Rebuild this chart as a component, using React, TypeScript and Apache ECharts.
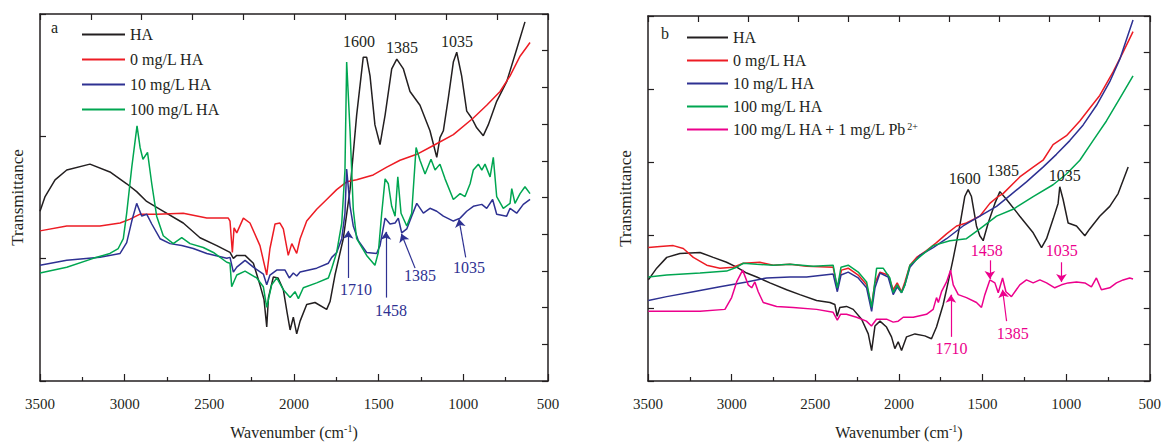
import React, { useEffect, useRef } from "react";
import * as echarts from "echarts";

const FONT = '"Liberation Serif", "Times New Roman", serif';
const INK = "#231f20";
const C_HA = "#231f20";
const C_0 = "#ed1c24";
const C_10 = "#2e3192";
const C_100 = "#00a651";
const C_PB = "#ec008c";

const namesA = ["HA", "0 mg/L HA", "10 mg/L HA", "100 mg/L HA"];
const namesB = ["HA", "0 mg/L HA", "10 mg/L HA", "100 mg/L HA", "100 mg/L HA + 1 mg/L Pb2+"];

// Panel a: [wavenumber (cm-1), transmittance (a.u.)]
const aHA: number[][] = [
  [3500, 173], [3470, 188], [3411, 205], [3342, 215], [3205, 221], [3087, 213], [2988, 201], [2929, 193],
  [2870, 183], [2791, 175], [2654, 161], [2555, 146], [2456, 138], [2378, 131], [2358, 125], [2338, 128],
  [2289, 128], [2240, 120], [2201, 98], [2177, 83], [2161, 55], [2151, 85], [2122, 106], [2094, 105],
  [2063, 93], [2041, 70], [2023, 52], [2004, 65], [1984, 48], [1964, 61], [1925, 78], [1876, 80],
  [1807, 73], [1787, 81], [1758, 108], [1709, 145], [1669, 195], [1630, 271], [1591, 330], [1571, 330],
  [1551, 311], [1522, 261], [1492, 241], [1462, 271], [1423, 318], [1393, 328], [1354, 318], [1315, 295],
  [1256, 281], [1197, 255], [1157, 228], [1138, 248], [1118, 255], [1089, 288], [1059, 325], [1039, 335],
  [1010, 311], [980, 275], [951, 268], [921, 258], [882, 250], [853, 261], [803, 285], [744, 305],
  [685, 338], [636, 366],
];
const a0: number[][] = [
  [3500, 153], [3342, 158], [3146, 158], [3027, 161], [2968, 165], [2909, 170], [2811, 170], [2654, 171],
  [2515, 166], [2388, 166], [2378, 163], [2364, 131], [2354, 156], [2338, 151], [2299, 166], [2260, 161],
  [2201, 138], [2161, 108], [2142, 135], [2112, 160], [2083, 161], [2063, 155], [2034, 128], [2013, 140],
  [1984, 130], [1964, 145], [1925, 163], [1866, 175], [1807, 185], [1748, 195], [1689, 203], [1630, 205],
  [1532, 210], [1452, 218], [1374, 225], [1275, 231], [1177, 240], [1059, 251], [941, 268], [862, 281],
  [783, 295], [724, 311], [665, 331], [606, 345],
];
const a10: number[][] = [
  [3500, 118], [3342, 123], [3146, 126], [3027, 130], [2988, 141], [2958, 163], [2929, 181], [2899, 168],
  [2870, 170], [2840, 160], [2791, 145], [2732, 140], [2663, 138], [2595, 135], [2515, 130], [2397, 125],
  [2378, 126], [2358, 111], [2338, 116], [2289, 123], [2240, 116], [2181, 109], [2161, 98], [2142, 108],
  [2102, 113], [2053, 113], [2028, 105], [2004, 110], [1984, 107], [1964, 111], [1866, 115], [1797, 120],
  [1777, 126], [1748, 131], [1718, 145], [1699, 171], [1689, 216], [1669, 178], [1650, 158], [1620, 143],
  [1571, 131], [1512, 130], [1492, 138], [1462, 166], [1433, 160], [1403, 161], [1384, 166], [1364, 151],
  [1334, 155], [1305, 168], [1275, 181], [1236, 171], [1197, 176], [1157, 173], [1118, 168], [1059, 163],
  [1019, 166], [980, 173], [941, 178], [891, 180], [862, 176], [827, 185], [803, 170], [744, 168],
  [724, 176], [685, 171], [646, 180], [606, 185],
];
const a100: number[][] = [
  [3500, 110], [3342, 116], [3185, 125], [3087, 130], [3038, 135], [3008, 145], [2988, 171], [2958, 218],
  [2927, 260], [2909, 238], [2892, 226], [2865, 233], [2840, 201], [2811, 168], [2772, 148], [2713, 140],
  [2663, 146], [2614, 140], [2536, 136], [2476, 131], [2397, 121], [2378, 120], [2368, 96], [2338, 108],
  [2289, 112], [2220, 105], [2181, 96], [2161, 75], [2132, 98], [2102, 105], [2063, 93], [2023, 85],
  [1994, 91], [1974, 84], [1945, 95], [1866, 100], [1797, 105], [1777, 115], [1748, 131], [1718, 161],
  [1699, 215], [1689, 325], [1669, 255], [1650, 175], [1630, 145], [1571, 128], [1522, 118], [1502, 131],
  [1482, 171], [1462, 206], [1443, 201], [1423, 178], [1403, 168], [1387, 208], [1368, 171], [1334, 158],
  [1305, 171], [1279, 238], [1256, 225], [1226, 211], [1191, 226], [1167, 215], [1138, 221], [1108, 206],
  [1059, 185], [1019, 191], [990, 188], [960, 201], [941, 215], [911, 221], [891, 215], [872, 221],
  [842, 208], [823, 228], [803, 188], [764, 176], [724, 181], [714, 196], [695, 181], [665, 191],
  [636, 198], [606, 191],
];

// Panel b
const bHA: number[][] = [
  [3498, 103], [3448, 115], [3388, 126], [3309, 130], [3189, 131], [3110, 126], [3030, 121], [2970, 116],
  [2910, 110], [2850, 106], [2771, 100], [2671, 93], [2592, 88], [2492, 82], [2412, 80], [2383, 78],
  [2369, 66], [2353, 75], [2313, 76], [2273, 73], [2223, 63], [2183, 48], [2163, 31], [2143, 56],
  [2113, 61], [2074, 55], [2044, 45], [2024, 33], [2004, 40], [1984, 31], [1954, 45], [1904, 48],
  [1845, 46], [1805, 43], [1775, 55], [1735, 78], [1705, 101], [1675, 125], [1636, 158], [1606, 188],
  [1586, 195], [1566, 188], [1536, 158], [1516, 148], [1496, 143], [1466, 161], [1426, 181], [1396, 193],
  [1356, 185], [1277, 168], [1197, 151], [1147, 136], [1117, 145], [1078, 165], [1048, 181], [1038, 198],
  [1018, 185], [988, 161], [938, 158], [888, 148], [859, 155], [799, 168], [739, 178], [689, 191],
  [629, 218],
];
const b0: number[][] = [
  [3498, 136], [3428, 137], [3349, 138], [3289, 135], [3229, 126], [3149, 118], [3070, 115], [2990, 116],
  [2930, 120], [2831, 121], [2751, 118], [2651, 119], [2552, 117], [2393, 116], [2368, 95], [2343, 113],
  [2303, 115], [2243, 108], [2193, 98], [2164, 76], [2143, 100], [2113, 111], [2064, 108], [2034, 93],
  [2010, 100], [1984, 91], [1964, 101], [1934, 118], [1894, 126], [1835, 133], [1775, 141], [1715, 150],
  [1655, 158], [1596, 161], [1516, 168], [1456, 181], [1407, 188], [1377, 191], [1277, 208], [1197, 218],
  [1138, 225], [1078, 241], [998, 250], [918, 265], [859, 278], [799, 291], [719, 315], [660, 335],
  [600, 356],
];
const b10: number[][] = [
  [3498, 82], [3388, 86], [3229, 91], [3070, 96], [2910, 101], [2791, 105], [2651, 106], [2552, 106],
  [2393, 109], [2368, 91], [2346, 108], [2303, 111], [2243, 105], [2193, 95], [2163, 71], [2143, 95],
  [2113, 110], [2064, 106], [2034, 88], [2010, 96], [1984, 90], [1964, 98], [1934, 116], [1875, 128],
  [1795, 136], [1715, 145], [1616, 158], [1516, 168], [1416, 178], [1337, 189], [1237, 203], [1138, 218],
  [1058, 231], [978, 245], [898, 261], [818, 281], [739, 305], [679, 328], [600, 368],
];
const b100: number[][] = [
  [3498, 106], [3388, 108], [3189, 110], [3030, 112], [2970, 116], [2930, 120], [2850, 119], [2751, 118],
  [2651, 119], [2512, 117], [2393, 118], [2368, 95], [2346, 116], [2303, 118], [2243, 111], [2193, 101],
  [2163, 75], [2133, 115], [2094, 115], [2054, 105], [2034, 90], [2010, 98], [1984, 90], [1964, 98],
  [1934, 118], [1795, 138], [1695, 143], [1596, 145], [1516, 155], [1416, 168], [1317, 175], [1197, 188],
  [1078, 200], [998, 211], [918, 225], [839, 245], [759, 265], [679, 288], [600, 311],
];
const bPb: number[][] = [
  [3498, 71], [3388, 71], [3189, 71], [3040, 73], [3000, 85], [2970, 101], [2934, 113], [2901, 98],
  [2880, 95], [2861, 101], [2841, 91], [2811, 80], [2731, 76], [2632, 75], [2492, 73], [2393, 70],
  [2368, 62], [2349, 68], [2313, 68], [2253, 65], [2194, 61], [2164, 56], [2134, 63], [2074, 63],
  [2034, 60], [2004, 61], [1974, 65], [1914, 65], [1835, 68], [1795, 73], [1775, 85], [1764, 80],
  [1745, 91], [1715, 101], [1691, 113], [1675, 98], [1645, 88], [1596, 85], [1536, 80], [1506, 75],
  [1486, 88], [1456, 103], [1426, 100], [1406, 90], [1380, 105], [1360, 91], [1327, 86], [1277, 98],
  [1237, 103], [1197, 100], [1157, 103], [1117, 100], [1068, 95], [1028, 98], [988, 100], [938, 101],
  [888, 100], [849, 96], [819, 105], [789, 93], [739, 95], [699, 100], [659, 103], [620, 105],
  [600, 104],
];

// Annotations: label, label anchor [wn, T], arrow tail [wn, T], arrow head [wn, T]
const peakLabelsA = [
  { text: "1600", at: [1616, 346] },
  { text: "1385", at: [1362, 340] },
  { text: "1035", at: [1037, 346] },
];
const arrowsA = [
  { text: "1710", at: [1634, 93], from: [1680, 105], to: [1680, 153] },
  { text: "1458", at: [1427, 72], from: [1457, 85], to: [1457, 152] },
  { text: "1385", at: [1256, 108], from: [1285, 115], to: [1366, 150] },
  { text: "1035", at: [966, 116], from: [986, 126], to: [1026, 165] },
];
const peakLabelsB = [
  { text: "1600", at: [1606, 206] },
  { text: "1385", at: [1378, 215] },
  { text: "1035", at: [1008, 209] },
];
const arrowsB = [
  { text: "1458", at: [1474, 133], from: [1456, 123], to: [1456, 104] },
  { text: "1035", at: [1026, 133], from: [1028, 121], to: [1028, 101] },
  { text: "1710", at: [1685, 33], from: [1689, 45], to: [1689, 88] },
  { text: "1385", at: [1319, 48], from: [1356, 61], to: [1380, 93] },
];

const Y_MAX_A = 374;
const Y_MAX_B = 372;

function textPoints(items: { text: string; at: number[] }[], color: string) {
  return {
    symbol: "circle",
    symbolSize: 0.01,
    silent: true,
    itemStyle: { color: "rgba(0,0,0,0)" },
    label: { show: true, position: "inside", color, fontFamily: FONT, fontSize: 16, formatter: (p: any) => p.name },
    data: items.map((d) => ({ name: d.text, coord: d.at })),
  };
}
function arrowLines(items: { from: number[]; to: number[] }[], color: string) {
  return {
    silent: true,
    symbol: ["none", "arrow"],
    symbolSize: 8,
    lineStyle: { color, width: 1.2, type: "solid" },
    itemStyle: { color },
    label: { show: false },
    emphasis: { disabled: true },
    data: items.map((d) => [{ coord: d.from }, { coord: d.to }]),
  };
}

const axisStyle = { color: INK, width: 1.5 };

function bottomX(gridIndex: number) {
  return {
    type: "value", gridIndex, min: 500, max: 3500, interval: 500, inverse: true, position: "bottom",
    axisLine: { show: true, onZero: false, lineStyle: axisStyle },
    axisTick: { show: true, inside: true, length: 7, lineStyle: { color: INK, width: 1.2 } },
    minorTick: { show: true, splitNumber: 2, length: 4, lineStyle: { color: INK, width: 1.2 } },
    axisLabel: { margin: 15, fontFamily: FONT, fontSize: 15, color: INK, formatter: (v: number) => String(v) },
    splitLine: { show: false },
    name: "Wavenumber (cm{sup|-1})",
    nameLocation: "middle",
    nameGap: 42,
    nameTextStyle: {
      fontFamily: FONT, fontSize: 16, color: INK,
      rich: { sup: { fontFamily: FONT, fontSize: 10, color: INK, verticalAlign: "top", padding: [0, 0, 8, 0] } },
    },
  };
}
function topX(gridIndex: number) {
  return {
    type: "value", gridIndex, min: 500, max: 3500, interval: 300, inverse: true, position: "top",
    axisLine: { show: true, onZero: false, lineStyle: axisStyle },
    axisTick: { show: true, inside: true, length: 6, lineStyle: { color: INK, width: 1.2 } },
    axisLabel: { show: false },
    splitLine: { show: false },
  };
}
function leftY(gridIndex: number, max: number, divisions: number) {
  return {
    type: "value", gridIndex, min: 0, max, interval: max / divisions, position: "left",
    axisLine: { show: true, onZero: false, lineStyle: axisStyle },
    axisTick: { show: true, inside: true, length: 6, lineStyle: { color: INK, width: 1.2 } },
    axisLabel: { show: false },
    splitLine: { show: false },
    name: "Transmittance",
    nameLocation: "middle",
    nameGap: 14,
    nameTextStyle: { fontFamily: FONT, fontSize: 17, color: INK },
  };
}
function rightY(gridIndex: number, max: number) {
  return {
    type: "value", gridIndex, min: 0, max, interval: max / 10, position: "right",
    axisLine: { show: true, onZero: false, lineStyle: axisStyle },
    axisTick: { show: true, inside: true, length: 6, lineStyle: { color: INK, width: 1.2 } },
    axisLabel: { show: false },
    splitLine: { show: false },
  };
}

function line(name: string, data: number[][], color: string, xi: number, yi: number, extra: any = {}) {
  return {
    type: "line", name, data, xAxisIndex: xi, yAxisIndex: yi,
    showSymbol: false, symbol: "none", smooth: false,
    lineStyle: { color, width: 1.5 }, itemStyle: { color },
    emphasis: { disabled: true },
    ...extra,
  };
}

const legendText = {
  fontFamily: FONT, fontSize: 16, color: INK, lineHeight: 17,
  rich: { sup: { fontFamily: FONT, fontSize: 10, color: INK, verticalAlign: "top", lineHeight: 17, padding: [0, 0, 6, 0] } },
};

const option: any = {
  animation: false,
  backgroundColor: "#ffffff",
  grid: [
    { left: 40, top: 14, width: 508, height: Y_MAX_A },
    { left: 648, top: 16, width: 502, height: Y_MAX_B },
  ],
  xAxis: [bottomX(0), topX(0), bottomX(1), topX(1)],
  yAxis: [leftY(0, Y_MAX_A, 3), rightY(0, Y_MAX_A), leftY(1, Y_MAX_B, 5), rightY(1, Y_MAX_B)],
  legend: [
    {
      data: namesA, orient: "vertical", left: 77, top: 21, itemWidth: 43, itemHeight: 2, itemGap: 8,
      icon: "rect", textStyle: legendText, selectedMode: false,
    },
    {
      data: namesB, orient: "vertical", left: 682, top: 24, itemWidth: 41, itemHeight: 2, itemGap: 6,
      icon: "rect", textStyle: legendText, selectedMode: false,
      formatter: (n: string) => (n.endsWith("Pb2+") ? n.replace("Pb2+", "Pb{sup|2+}") : n),
    },
  ],
  graphic: [
    { type: "text", left: 51, top: 19, style: { text: "a", font: `16px ${FONT}`, fill: INK } },
    { type: "text", left: 661, top: 25, style: { text: "b", font: `16px ${FONT}`, fill: INK } },
  ],
  series: [
    line(namesA[0], aHA, C_HA, 0, 0, { markPoint: textPoints(peakLabelsA, INK) }),
    line(namesA[1], a0, C_0, 0, 0),
    line(namesA[2], a10, C_10, 0, 0, {
      markLine: arrowLines(arrowsA, C_10),
      markPoint: textPoints(arrowsA, C_10),
    }),
    line(namesA[3], a100, C_100, 0, 0),
    line(namesB[0], bHA, C_HA, 2, 2, { markPoint: textPoints(peakLabelsB, INK) }),
    line(namesB[1], b0, C_0, 2, 2),
    line(namesB[2], b10, C_10, 2, 2),
    line(namesB[3], b100, C_100, 2, 2),
    line(namesB[4], bPb, C_PB, 2, 2, {
      markLine: arrowLines(arrowsB, C_PB),
      markPoint: textPoints(arrowsB, C_PB),
    }),
  ],
};

export default function App() {
  const ref = useRef<HTMLDivElement>(null);
  useEffect(() => {
    if (!ref.current) return;
    const chart = echarts.init(ref.current, null, { renderer: "svg" });
    chart.setOption(option);
    return () => chart.dispose();
  }, []);
  return (
    <div
      ref={ref}
      style={{ position: "absolute", left: 0, top: 0, width: 1164, height: 445, background: "#fff" }}
    />
  );
}
